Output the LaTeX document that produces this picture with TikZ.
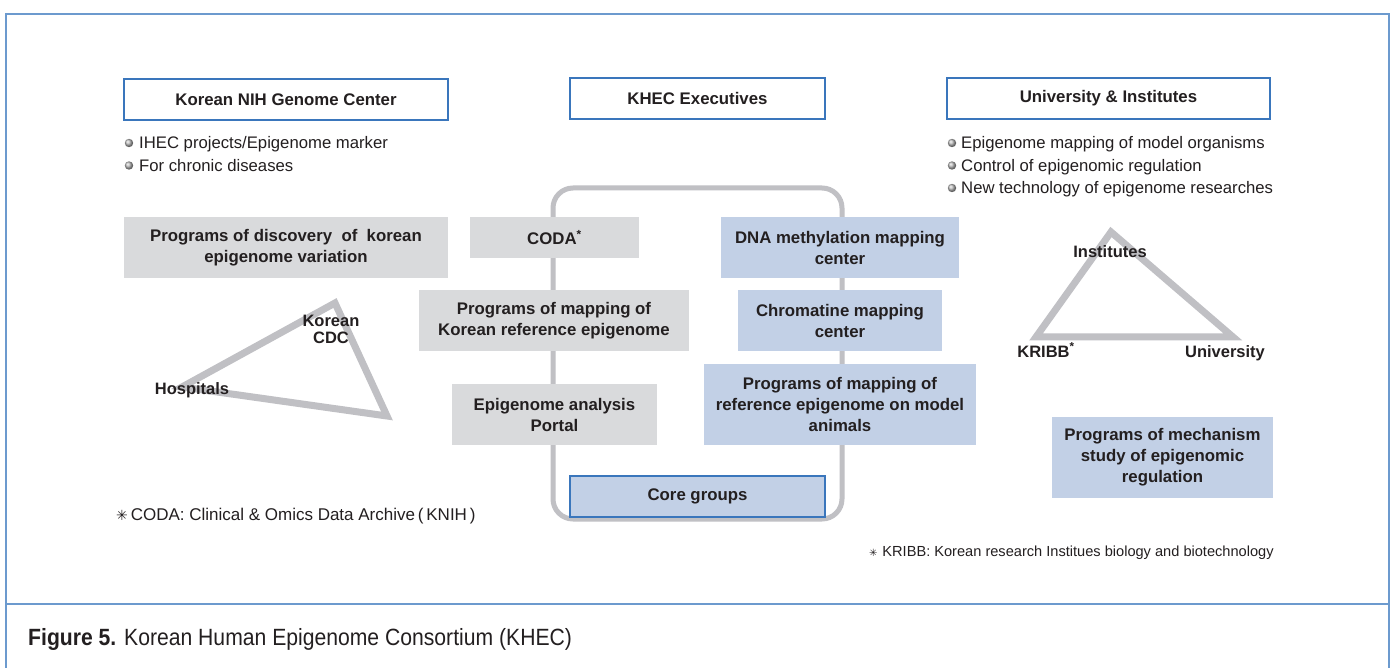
\documentclass[tikz,border=0pt]{standalone}
\usepackage{fontspec}
\setmainfont{Liberation Sans}
\newfontfamily\symfont{DejaVu Sans}
\newfontfamily\capfont[FakeStretch=0.9]{Liberation Sans}
\usepackage{tikz}
\usepackage{xcolor}
\definecolor{frameblue}{RGB}{108,154,206}
\definecolor{edgeblue}{RGB}{58,118,188}
\definecolor{boxgray}{RGB}{217,218,220}
\definecolor{boxblue}{RGB}{194,208,230}
\definecolor{linegray}{RGB}{192,192,196}
\definecolor{ink}{RGB}{35,31,32}

\begin{document}
\begin{tikzpicture}[x=1pt,y=-1pt,
  every node/.style={text=ink},
  headbox/.style={draw=edgeblue,line width=1.5pt,fill=white,minimum height=41pt,
    inner sep=0pt,font=\fontsize{16.8}{21}\selectfont\bfseries},
  progbox/.style={minimum height=61pt,inner sep=0pt,align=center,
    font=\fontsize{16.8}{21}\selectfont\bfseries},
  graybox/.style={progbox,fill=boxgray},
  bluebox/.style={progbox,fill=boxblue},
  tri/.style={draw=linegray,line width=7pt,line join=miter},
  item/.style={anchor=base west,inner sep=0pt,font=\fontsize{16.7}{20}\selectfont},
  corner/.style={inner sep=0pt,align=center,font=\fontsize{16.5}{17}\selectfont\bfseries}]
  % page: 1 unit = 1 pixel, y grows downwards
  \fill[white] (0,0) rectangle (1395,668);
  \useasboundingbox (0,0) rectangle (1395,668);

  % outer frame and caption rule
  \draw[frameblue,line width=2pt] (6,668) -- (6,14.5) -- (1389,14.5) -- (1389,668);
  \draw[frameblue,line width=2pt] (6,604) -- (1389,604);

  % --- three heads
  \node[headbox,minimum width=324pt] (nih)  at (286,99.5)    {Korean NIH Genome Center};
  \node[headbox,minimum width=255pt] (exec) at (697.5,98.5)  {KHEC Executives};
  \node[headbox,minimum width=323pt] (univ) at (1108.5,98.5) {University \& Institutes};

  % bullet lists under the side heads
  \foreach \t [count=\i] in {{IHEC projects/Epigenome marker},{For chronic diseases}} {
    \node[item] (nihitem\i) at (139,{149+22.5*(\i-1)}) {\t};
    \shade[ball color=gray!55] (129,{143+22.5*(\i-1)}) circle (4.2pt);
  }
  \foreach \t [count=\i] in {{Epigenome mapping of model organisms},{Control of epigenomic regulation},
                             {New technology of epigenome researches}} {
    \node[item] (univitem\i) at (961,{149+22.5*(\i-1)}) {\t};
    \shade[ball color=gray!55] (952,{143+22.5*(\i-1)}) circle (4.2pt);
  }

  % --- core frame behind the middle column
  \draw[linegray,line width=5pt,rounded corners=20pt] (553,188) rectangle (842,519);

  % left column (gray)
  \node[graybox,minimum width=324pt] (discovery) at (286,247.5)
    {Programs of discovery \ of \ korean\\epigenome variation};
  \node[graybox,minimum width=169pt,minimum height=41pt] (coda) at (554.5,237.5)
    {CODA\textsuperscript{*}};
  \node[graybox,minimum width=270pt] (refmap) at (554,320.5)
    {Programs of mapping of\\Korean reference epigenome};
  \node[graybox,minimum width=205pt] (portal) at (554.5,414.5)
    {Epigenome analysis\\Portal};

  % right column (blue)
  \node[bluebox,minimum width=238pt] (dna) at (840,247.5)
    {DNA methylation mapping\\center};
  \node[bluebox,minimum width=204pt] (chromatin) at (840,320.5)
    {Chromatine mapping\\center};
  \node[bluebox,minimum width=272pt,minimum height=81pt] (animals) at (840,404.5)
    {Programs of mapping of\\reference epigenome on model\\animals};
  \node[bluebox,minimum width=221pt,minimum height=81pt] (mechanism) at (1162.5,457.5)
    {Programs of mechanism\\study of epigenomic\\regulation};
  \node[headbox,fill=boxblue,minimum width=255pt] (core) at (697.5,496.5) {Core groups};

  % --- partner triangles
  \coordinate (hosp) at (182,387);
  \coordinate (kcdc) at (335,303);
  \coordinate (kfoot) at (387,416);
  \draw[tri] (hosp) -- (kcdc) -- (kfoot) -- cycle;
  \node[corner] (kcdclabel) at (331,329) {Korean\\CDC};
  \node[corner] (hosplabel) at (192,390) {Hospitals};

  \coordinate (inst) at (1111,232);
  \coordinate (kribb) at (1036,337);
  \coordinate (uni) at (1233,337);
  \draw[tri] (inst) -- (kribb) -- (uni) -- cycle;
  \node[corner] (instlabel)  at (1110,252) {Institutes};
  \node[corner] (kribblabel) at (1046,350) {KRIBB\textsuperscript{*}};
  \node[corner] (unilabel)   at (1225,353) {University};

  % footnotes
  \node[anchor=base west,inner sep=0pt,font=\fontsize{17}{18}\selectfont] (codanote) at (116,520)
    {{\symfont\fontsize{14}{14}\selectfont ✳}\,CODA: Clinical \& Omics Data Archive\,(\,KNIH\,)};
  \node[anchor=base west,inner sep=0pt,font=\fontsize{14.6}{16}\selectfont] (kribbnote) at (869,556)
    {{\symfont\fontsize{10}{10}\selectfont ✳}\,\,KRIBB: Korean research Institues biology and biotechnology};

  % caption
  \node[anchor=base west,inner sep=0pt,font=\capfont\fontsize{23.5}{26}\selectfont] (caption) at (28,645)
    {\textbf{Figure 5.} Korean Human Epigenome Consortium (KHEC)};
\end{tikzpicture}
\end{document}
